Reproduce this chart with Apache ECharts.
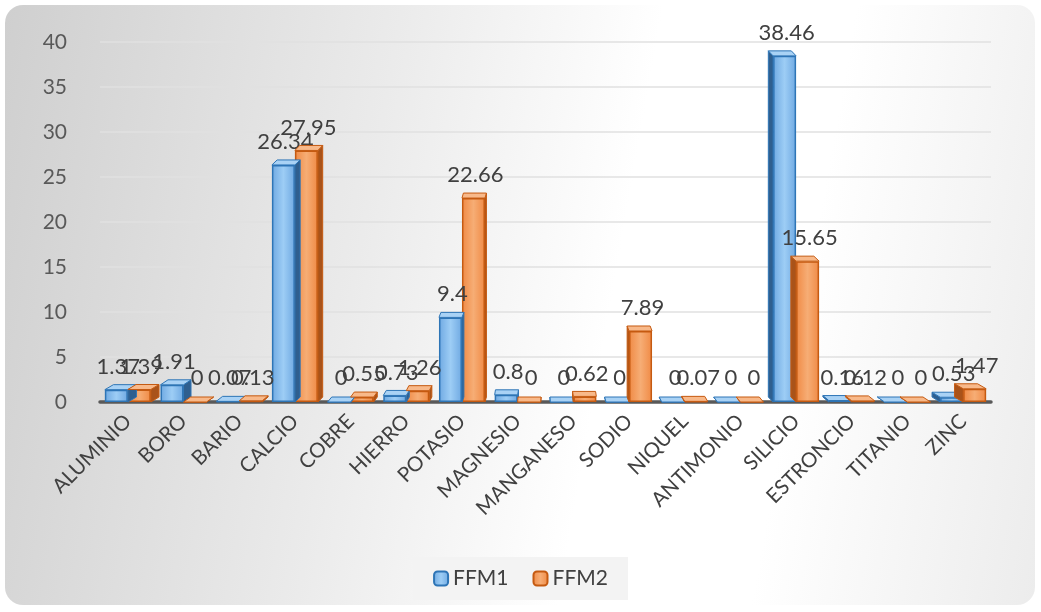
<!DOCTYPE html>
<html><head><meta charset="utf-8">
<script src="https://cdn.jsdelivr.net/npm/echarts@6/dist/echarts.min.js"></script>
<style>
html,body{margin:0;padding:0;width:1041px;height:612px;background:#ffffff;overflow:hidden}
#bg{position:absolute;left:5px;top:5px;width:1030px;height:600px;border-radius:18px;
background:linear-gradient(100deg,#cfcfcf 0%,#ebebeb 35%,#ffffff 58%,#ffffff 75%,#ececec 100%);}
#c{position:absolute;left:0;top:0;width:1041px;height:612px}
</style></head>
<body><div id="bg"></div><div id="c"></div>
<script>
const categories = ['ALUMINIO','BORO','BARIO','CALCIO','COBRE','HIERRO','POTASIO','MAGNESIO','MANGANESO','SODIO','NIQUEL','ANTIMONIO','SILICIO','ESTRONCIO','TITANIO','ZINC'];
const ffm1 = [1.37, 1.91, 0.07, 26.34, 0, 0.73, 9.4, 0.8, 0, 0, 0, 0, 38.46, 0.16, 0, 0.53];
const ffm2 = [1.39, 0, 0.13, 27.95, 0.55, 1.26, 22.66, 0, 0.62, 7.89, 0.07, 0, 15.65, 0.12, 0, 1.47];
const seriesNames = ['FFM1','FFM2'];

const BW = 23, DY = 5, CX = 546, PERSP = 0.02;
const colors = [
  {front:['#6fa9e2','#9dcdf5'], border:'#2e75b6', top:'#a9d2f5', side:'#2f5f8f'},
  {front:['#f08a45','#f6ad75'], border:'#c55a11', top:'#f8b98a', side:'#a9531a'}
];
const font = 'Lato, "Open Sans", sans-serif';

function barSeries(name, data, k){
  const c = colors[k];
  return {
    name, type:'bar', data, barWidth:BW, barGap:'0%', z:2,
    itemStyle:{color:new echarts.graphic.LinearGradient(0,0,1,0,[{offset:0,color:c.front[0]},{offset:0.5,color:c.front[1]},{offset:1,color:c.front[0]}]),
      borderColor:c.border,borderWidth:1.5},
    label:{show:true,position:'top',distance:12,fontSize:22,color:'#404040',fontFamily:font,offset:[2,0]}
  };
}
function faceSeries(data, k){
  const c = colors[k];
  return {
    type:'custom', name:'face'+k, z:3, silent:true,
    data: data.map((v,i)=>[i,v]),
    renderItem(params, api){
      const pTop = api.coord([api.value(0), api.value(1)]);
      const pBase = api.coord([api.value(0), 0]);
      const x0 = pTop[0] - BW + k*BW, x1 = x0 + BW;
      const dx = -((x0 + x1)/2 - CX) * PERSP;
      const y = pTop[1], y0 = pBase[1];
      const sx = dx >= 0 ? x1 : x0;
      return {type:'group', children:[
        {type:'polygon', shape:{points:[[sx,y],[sx+dx,y-DY],[sx+dx,y0-DY],[sx,y0]]},
         style:{fill:c.side, stroke:c.border, lineWidth:1}},
        {type:'polygon', shape:{points:[[x0,y],[x1,y],[x1+dx,y-DY],[x0+dx,y-DY]]},
         style:{fill:c.top, stroke:c.border, lineWidth:1}}
      ]};
    }
  };
}

const chart = echarts.init(document.getElementById('c'));
chart.setOption({
  backgroundColor:'transparent',
  animation:false,
  grid:{left:100,right:50,top:42,bottom:210},
  legend:{data:seriesNames,bottom:12,left:'center',itemWidth:14,itemHeight:14,itemGap:24,
    backgroundColor:'#f3f3f3',padding:[11,20],
    textStyle:{fontSize:21,color:'#404040',fontFamily:font}},
  xAxis:{type:'category',data:categories,
    axisLine:{lineStyle:{color:'#595959',width:3.5}},axisTick:{show:false},
    axisLabel:{rotate:45,fontSize:20.5,color:'#404040',fontFamily:font,margin:16,interval:0}},
  yAxis:{type:'value',min:0,max:40,interval:5,
    axisLine:{show:false},axisTick:{show:false},
    splitLine:{lineStyle:{color:'#e0e0e0',width:1.5}},
    axisLabel:{fontSize:21,color:'#595959',fontFamily:font,margin:33}},
  series:[barSeries('FFM1',ffm1,0),barSeries('FFM2',ffm2,1),faceSeries(ffm1,0),faceSeries(ffm2,1)]
});
</script></body></html>
